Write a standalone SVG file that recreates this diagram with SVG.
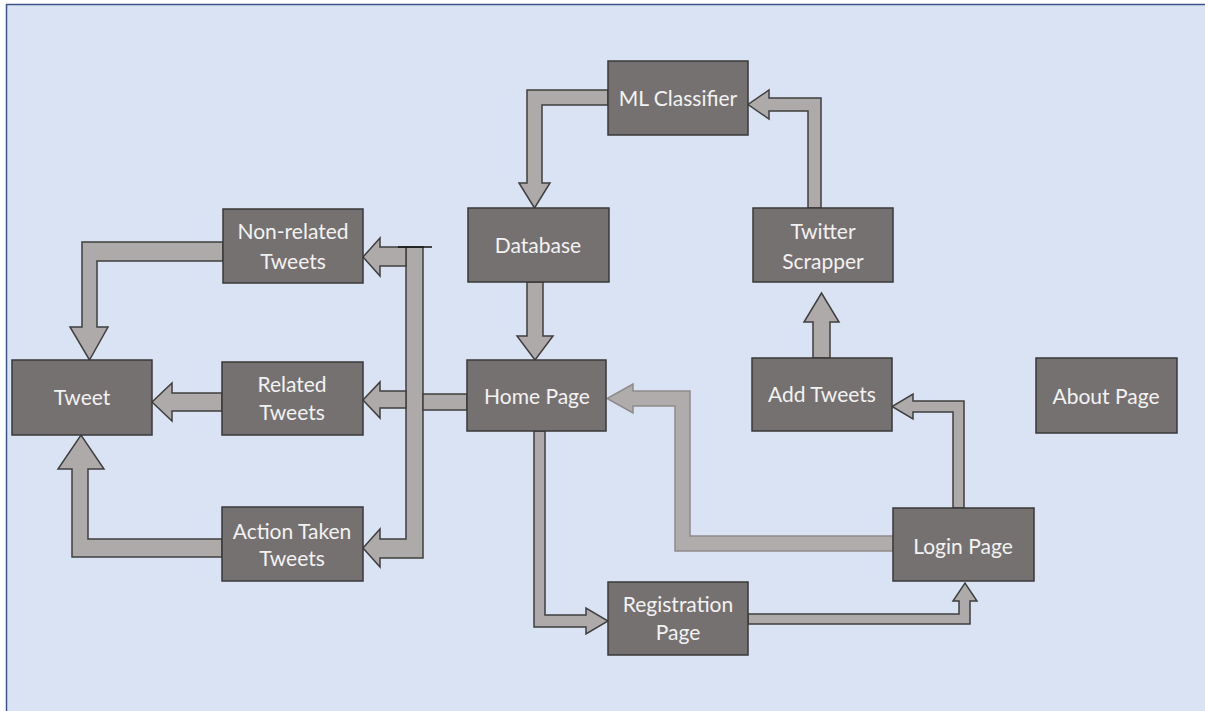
<svg xmlns="http://www.w3.org/2000/svg" width="1205" height="711" viewBox="0 0 1205 711">
<style>
.node rect{fill:#767171;stroke:#3a3838;stroke-width:1.5}
.node text{font-family:Lato,"Open Sans",sans-serif;font-size:21px;fill:#f2f2f2;text-anchor:middle}
.arr{fill:#aeaaaa;stroke:#3f3f3f;stroke-width:1.5;stroke-linejoin:miter}
.arr.light{fill:#b0acac;stroke:#8f8b8b}
</style>
<rect x="0" y="0" width="1205" height="711" fill="#ffffff"/>
<rect x="6.5" y="4.5" width="1220" height="730" fill="#dae3f3" stroke="#3c5487" stroke-width="1.5"/>
<g id="connectors">
<path class="arr" d="M608,90 L527,90 L527,183 L519,183 L534.5,208 L550,183 L542,183 L542,105 L608,105 Z"/>
<path class="arr" d="M821,208 L821,98 L769,98 L769,90 L748,104.5 L769,119 L769,111 L808,111 L808,208 Z"/>
<path class="arr" d="M527,282 L527,336 L517,336 L535,360 L553,336 L543,336 L543,282 Z"/>
<path class="arr" d="M813,358 L813,322 L804,322 L821.5,293 L839,322 L830,322 L830,358 Z"/>
<path class="arr" d="M223,242 L82,242 L82,327 L70,327 L89.5,360 L108,327 L97,327 L97,261 L223,261 Z"/>
<path class="arr" d="M222,393 L172,393 L172,383 L152,402 L172,421 L172,411 L222,411 Z"/>
<path class="arr" d="M222,539 L88,539 L88,469 L104,469 L81,435 L58,469 L72,469 L72,557 L222,557 Z"/>
<path class="arr" d="M423,247 L423,558 L380,558 L380,567 L363,548 L380,529 L380,539 L406,539 L406,247 Z"/>
<path class="arr" d="M406,247 L380,247 L380,238 L363,257 L380,276 L380,266 L406,266 Z"/>
<path class="arr" d="M406,391 L380,391 L380,382 L363,400 L380,418 L380,408 L406,408 Z"/>
<rect class="arr" x="423" y="394" width="44" height="16"/>
<line x1="398" y1="247" x2="432" y2="247" stroke="#111" stroke-width="1.5"/>
<path class="arr" d="M534,431 L534,627 L586,627 L586,634 L608,621 L586,608 L586,615 L545,615 L545,431 Z"/>
<path class="arr" d="M748,614 L959,614 L959,601 L953,601 L965,583 L977,601 L970,601 L970,624 L748,624 Z"/>
<path class="arr light" d="M893,536 L690,536 L690,391 L633,391 L633,384 L607,398.5 L633,413 L633,406 L675,406 L675,551 L893,551 Z"/>
<path class="arr" d="M953,508 L953,412 L913,412 L913,419 L892,406.5 L913,394 L913,401 L964,401 L964,508 Z"/>
</g>
<g id="ml-classifier" class="node"><rect x="608" y="61" width="140" height="74"/><text x="678" y="106">ML Classifier</text></g>
<g id="database" class="node"><rect x="468" y="208" width="141" height="74"/><text x="538" y="253">Database</text></g>
<g id="twitter-scrapper" class="node"><rect x="753" y="208" width="140" height="74"/><text x="823" y="239">Twitter</text><text x="823" y="269">Scrapper</text></g>
<g id="home-page" class="node"><rect x="467" y="360" width="139" height="71"/><text x="537" y="404">Home Page</text></g>
<g id="add-tweets" class="node"><rect x="752" y="358" width="140" height="73"/><text x="822" y="402">Add Tweets</text></g>
<g id="about-page" class="node"><rect x="1036" y="358" width="141" height="75"/><text x="1106" y="404">About Page</text></g>
<g id="non-related-tweets" class="node"><rect x="223" y="209" width="140" height="74"/><text x="293" y="239">Non-related</text><text x="293" y="269">Tweets</text></g>
<g id="tweet" class="node"><rect x="12" y="360" width="140" height="75"/><text x="82" y="405">Tweet</text></g>
<g id="related-tweets" class="node"><rect x="222" y="362" width="141" height="73"/><text x="292" y="392">Related</text><text x="292" y="420">Tweets</text></g>
<g id="action-taken-tweets" class="node"><rect x="222" y="507" width="141" height="74"/><text x="292" y="539">Action Taken</text><text x="292" y="566">Tweets</text></g>
<g id="login-page" class="node"><rect x="893" y="508" width="141" height="73"/><text x="963" y="554">Login Page</text></g>
<g id="registration-page" class="node"><rect x="608" y="582" width="140" height="73"/><text x="678" y="612">Registration</text><text x="678" y="640">Page</text></g>
</svg>
